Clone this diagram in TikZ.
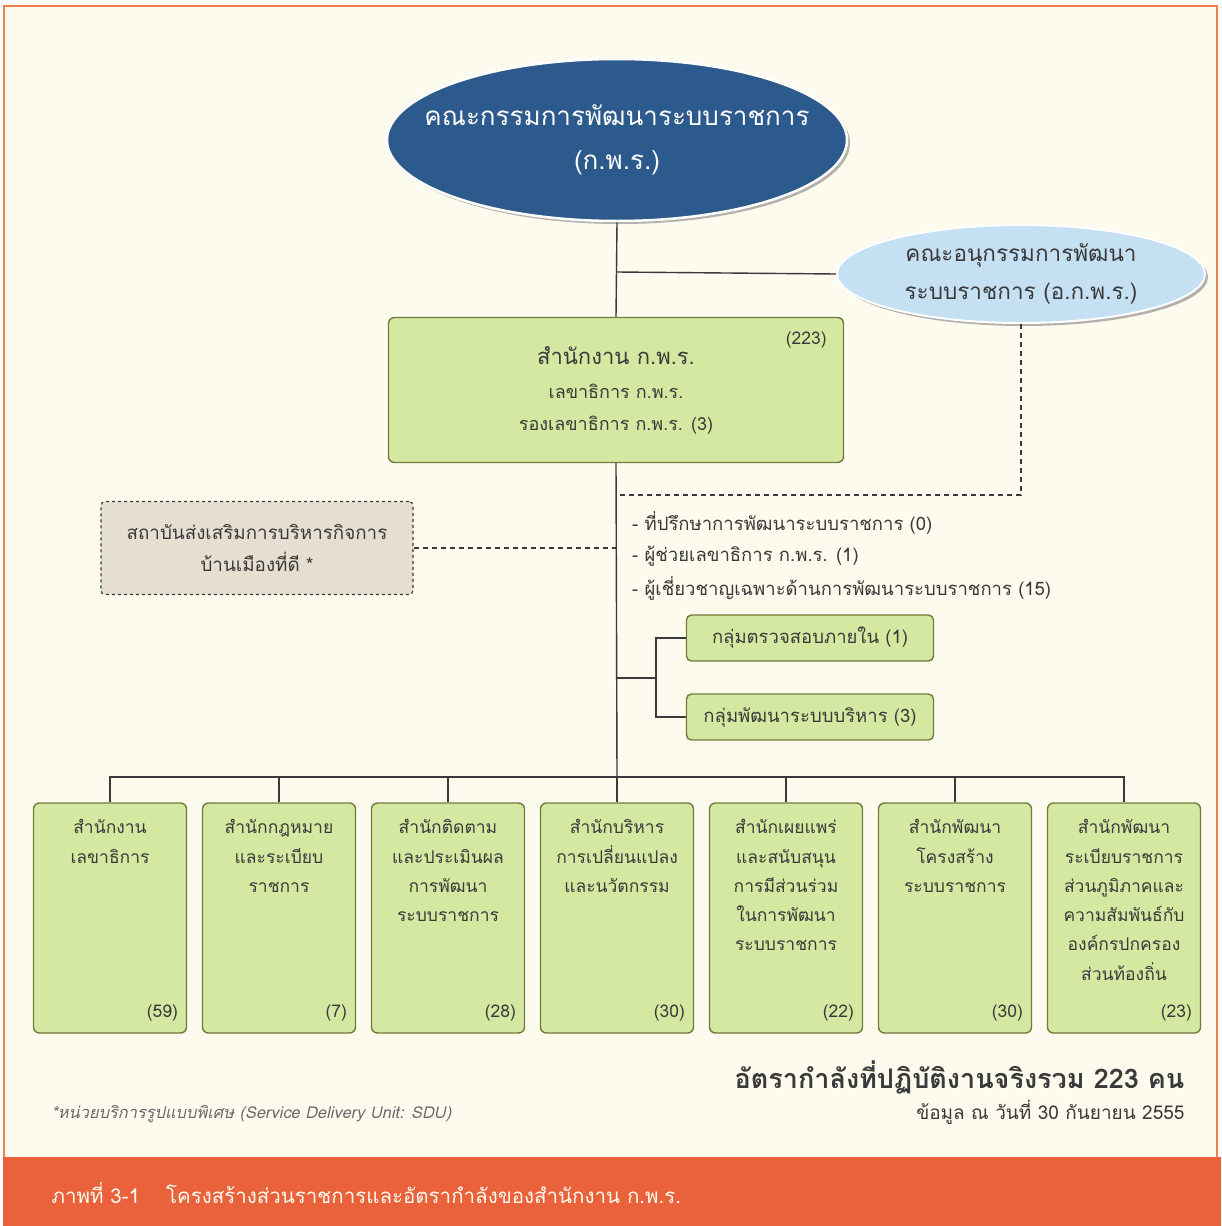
\documentclass[tikz,border=0pt]{standalone}
\usepackage{fontspec}
\setmainfont{Loma}[Script=Thai]
\usetikzlibrary{positioning,shapes.geometric,shadows}
\definecolor{paper}{HTML}{FDFBEE}
\definecolor{frameor}{HTML}{F0804F}
\definecolor{banner}{HTML}{E9623B}
\definecolor{navy}{HTML}{2D5A8C}
\definecolor{skyblue}{HTML}{C4E0F2}
\definecolor{leaf}{HTML}{D5E8A1}
\definecolor{leafline}{HTML}{707C3C}
\definecolor{sand}{HTML}{E6DED0}
\definecolor{ink}{HTML}{3A3A3A}
\definecolor{inkgray}{HTML}{6A6A6A}
\tikzset{
  boardoval/.style={ellipse,fill=navy,draw=white,line width=2.5pt,
                    inner xsep=-30pt,inner ysep=4pt,
                    minimum width=460pt,minimum height=162pt,
                    text=white,align=center,font=\fontsize{26}{44}\selectfont,
                    drop shadow={shadow xshift=3pt,shadow yshift=-3pt,opacity=0.6}},
  suboval/.style={ellipse,fill=skyblue,draw=white,line width=2pt,
                  inner xsep=-22pt,inner ysep=2pt,
                  minimum width=368pt,minimum height=98pt,
                  text=ink,align=center,font=\fontsize{22.5}{38}\selectfont,
                  drop shadow={shadow xshift=3pt,shadow yshift=-3pt,opacity=0.6}},
  officebox/.style={rectangle,rounded corners=6pt,fill=leaf,draw=leafline,line width=1.4pt,
                    minimum width=455pt,minimum height=145pt,align=center,text=ink,
                    font=\fontsize{18}{32}\selectfont},
  groupbox/.style={rectangle,rounded corners=5pt,fill=leaf,draw=leafline,line width=1.4pt,
                   minimum width=247pt,minimum height=46pt,text=ink,
                   font=\fontsize{18.5}{22}\selectfont},
  unitbox/.style={rectangle,rounded corners=6pt,fill=leaf,draw=leafline,line width=1.4pt,
                  minimum width=153pt,minimum height=230pt},
  unittext/.style={anchor=north,align=center,text=ink,inner sep=0pt,
                   font=\fontsize{17.5}{29.3}\selectfont},
  numlbl/.style={anchor=south east,xshift=-9pt,yshift=12pt,text=ink,inner sep=0pt,
                 font=\fontsize{17.5}{20}\selectfont},
  sdubox/.style={rectangle,rounded corners=4pt,fill=sand,draw=ink,dashed,line width=1.2pt,
                 minimum width=312pt,minimum height=93pt,align=center,text=ink,
                 font=\fontsize{18.8}{32}\selectfont},
  listtext/.style={anchor=west,text=ink,inner sep=0pt,font=\fontsize{18.5}{20}\selectfont},
  link/.style={draw=ink,line width=1.4pt},
  dashline/.style={draw=ink,line width=1.3pt,dash pattern=on 5pt off 4pt}
}
\begin{document}
\begin{tikzpicture}[x=1pt,y=-1pt]
  \useasboundingbox (0,0) rectangle (1221,1226);
  % page and frame
  \fill[white] (0,0) rectangle (1221,1226);
  \filldraw[fill=paper,draw=frameor,line width=2.5pt] (4,6) rectangle (1217,1180);
  \fill[banner] (3,1157) rectangle (1221,1226);

  % committees
  \node[boardoval] (kpr) at (617,140) {คณะกรรมการพัฒนาระบบราชการ\\(ก.พ.ร.)};
  \node[suboval] (akpr) at (1021,274) {คณะอนุกรรมการพัฒนา\\ระบบราชการ (อ.ก.พ.ร.)};

  % office
  \node[officebox] (office) at (616,390)
    {{\fontsize{22}{26}\selectfont สำนักงาน ก.พ.ร.}\\[2pt]
     เลขาธิการ ก.พ.ร.\\
     รองเลขาธิการ ก.พ.ร. (3)};
  \node[text=ink,font=\fontsize{17.5}{20}\selectfont,anchor=north east] (total0)
    at ([xshift=-14pt,yshift=-11pt]office.north east) {(223)};

  \node[sdubox] (sdu) at (257,548) {สถาบันส่งเสริมการบริหารกิจการ\\บ้านเมืองที่ดี *};

  \node[listtext] (adv) at (632,523) {- ที่ปรึกษาการพัฒนาระบบราชการ (0)};
  \node[listtext] (asst) at (632,556) {- ผู้ช่วยเลขาธิการ ก.พ.ร. (1)};
  \node[listtext] (expt) at (632,588) {- ผู้เชี่ยวชาญเฉพาะด้านการพัฒนาระบบราชการ (15)};

  \node[groupbox] (audit) at (810,638) {กลุ่มตรวจสอบภายใน (1)};
  \node[groupbox] (admin) at (810,717) {กลุ่มพัฒนาระบบบริหาร (3)};

  % bureaus
  \foreach \i/\x/\txt/\num in {
      1/110/{สำนักงาน\\เลขาธิการ}/59,
      2/279/{สำนักกฎหมาย\\และระเบียบ\\ราชการ}/7,
      3/448/{สำนักติดตาม\\และประเมินผล\\การพัฒนา\\ระบบราชการ}/28,
      4/617/{สำนักบริหาร\\การเปลี่ยนแปลง\\และนวัตกรรม}/30,
      5/786/{สำนักเผยแพร่\\และสนับสนุน\\การมีส่วนร่วม\\ในการพัฒนา\\ระบบราชการ}/22,
      6/955/{สำนักพัฒนา\\โครงสร้าง\\ระบบราชการ}/30,
      7/1124/{สำนักพัฒนา\\ระเบียบราชการ\\ส่วนภูมิภาคและ\\ความสัมพันธ์กับ\\องค์กรปกครอง\\ส่วนท้องถิ่น}/23}{
    \node[unitbox,label={[numlbl]south east:(\num)}] (u\i) at (\x,918) {};
    \node[unittext] (t\i) at ([yshift=-17pt]u\i.north) {\txt};
  }

  % connectors
  \coordinate (j1) at (617,272);
  \coordinate (dj) at (617,495);
  \coordinate (gj) at (617,678);
  \coordinate (gx) at (656,678);
  \coordinate (bus) at (617,777);
  \draw[link] (kpr.south) -- (office.north);
  \draw[link] (j1) -- (akpr.west);
  \draw[link] (office.south) -- (bus);
  \draw[link] (gj) -- (gx) |- (audit.west);
  \draw[link] (gx) |- (admin.west);
  \draw[link] (u1.north) |- (bus) -| (u7.north);
  \foreach \i in {2,...,6}
    \draw[link] (u\i.north) -- (u\i.north |- bus);
  \draw[dashline] (akpr.south) |- (dj);
  \draw[dashline] (sdu.east) -- (sdu.east -| dj);

  % notes
  \node[anchor=east,text=ink,font=\fontsize{27}{30}\selectfont\bfseries] (sum)
    at (1188,1077) {อัตรากำลังที่ปฏิบัติงานจริงรวม 223 คน};
  \node[anchor=east,text=ink,font=\fontsize{19}{22}\selectfont] (asof)
    at (1188,1112) {ข้อมูล ณ วันที่ 30 กันยายน 2555};
  \node[anchor=west,text=inkgray,font=\fontsize{16.4}{20}\selectfont\itshape] (note)
    at (48,1114) {*หน่วยบริการรูปแบบพิเศษ (Service Delivery Unit: SDU)};
  \node[anchor=west,text=paper,font=\fontsize{20.5}{24}\selectfont] (caption)
    at (48,1193) {ภาพที่ 3-1\hspace{26pt}โครงสร้างส่วนราชการและอัตรากำลังของสำนักงาน ก.พ.ร.};
\end{tikzpicture}
\end{document}
